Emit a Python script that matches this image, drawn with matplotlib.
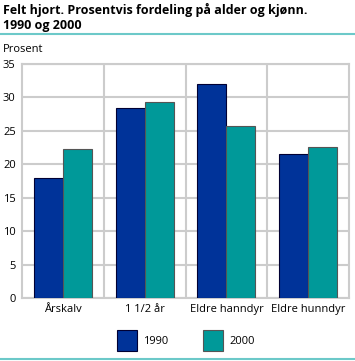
import numpy as np
import matplotlib
matplotlib.use("Agg")
import matplotlib.pyplot as plt
from matplotlib.patches import Rectangle
from matplotlib.lines import Line2D

plt.rcParams['font.family'] = ['Open Sans', 'DejaVu Sans']

categories = ["Årskalv", "1 1/2 år", "Eldre hanndyr", "Eldre hunndyr"]
years = ["1990", "2000"]
values_1990 = [18.0, 28.4, 32.0, 21.6]
values_2000 = [22.3, 29.3, 25.7, 22.6]

blue = "#003399"
teal = "#009999"
grid_col = "#cccccc"
line_col = "#6cc9c9"

W, H = 355, 361
fig = plt.figure(figsize=(W / 100, H / 100), dpi=100)

# plot area in pixels: left 22, right 349, top 64, bottom 298
ax = fig.add_axes([22 / W, 1 - 298 / H, (349 - 22) / W, (298 - 64) / H])

x = np.arange(len(categories))
w = 0.355
ax.bar(x - w / 2, values_1990, w, color=blue, edgecolor="#000033", linewidth=0.8, zorder=3)
ax.bar(x + w / 2, values_2000, w, color=teal, edgecolor="#555555", linewidth=0.8, zorder=3)

ax.set_xlim(-0.5, len(categories) - 0.5)
ax.set_ylim(0, 35)
ax.set_yticks(np.arange(0, 36, 5))
ax.set_xticks(x)
ax.set_xticklabels(categories, fontsize=8)
ax.tick_params(axis="both", length=0, labelsize=8, colors="#000000")
ax.tick_params(axis="y", pad=4.5)
ax.tick_params(axis="x", pad=4)

ax.grid(axis="y", color=grid_col, linewidth=1.5, zorder=0)
for b in np.arange(0.5, len(categories) - 0.5, 1):
    ax.axvline(b, color=grid_col, linewidth=1.5, zorder=0)
for s in ax.spines.values():
    s.set_color(grid_col)
    s.set_linewidth(1.5)

# title and rules
fig.text(3 / W, 1 - 3 / H, "Felt hjort. Prosentvis fordeling på alder og kjønn.\n1990 og 2000",
         fontsize=9.0, fontweight="bold", va="top", ha="left", linespacing=1.2)
fig.add_artist(Line2D([0, 1], [1 - 33.5 / H, 1 - 33.5 / H], color=line_col, linewidth=1.5))
fig.add_artist(Line2D([0, 1], [1 - 359 / H, 1 - 359 / H], color=line_col, linewidth=1.5))
fig.text(3 / W, 1 - 49 / H, "Prosent", fontsize=8, va="center", ha="left")

# legend
for i, (lab, col, ec) in enumerate(zip(years, [blue, teal], ["#000033", "#555555"])):
    x0 = 117 + i * 86
    fig.add_artist(Rectangle((x0 / W, 1 - 351 / H), 20 / W, 21 / H, facecolor=col,
                             edgecolor=ec, linewidth=0.8, transform=fig.transFigure))
    fig.text((x0 + 26) / W, 1 - 341 / H, lab, fontsize=8, va="center", ha="left")

fig.savefig("out.png", dpi=100)
